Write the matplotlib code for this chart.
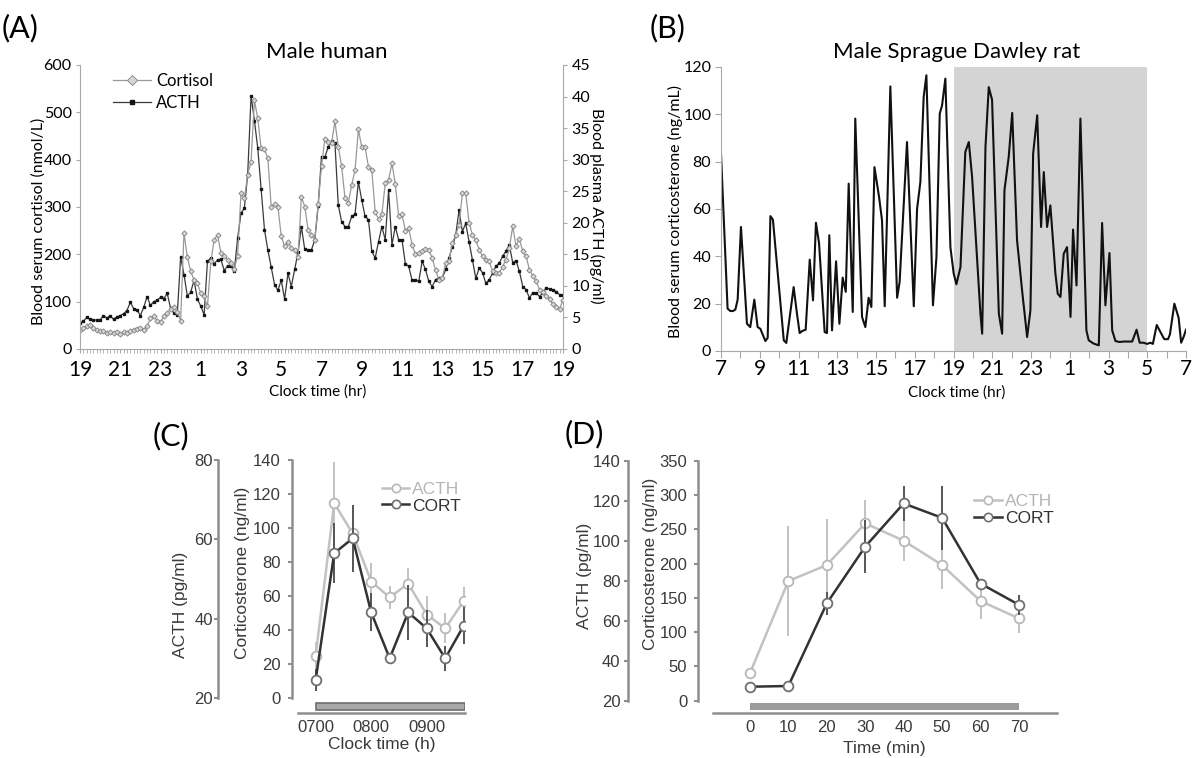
import numpy as np
import matplotlib.pyplot as plt
from matplotlib.patches import Rectangle
from matplotlib.lines import Line2D

plt.rcParams['font.family'] = ['Lato', 'DejaVu Sans']

# (A) male human, one sample every 10 min from 19:00 to 19:00
cortisol = [40, 44, 48, 51, 45, 41, 37, 37, 34, 35, 34, 35, 32, 35, 34, 37, 41, 42, 44, 41,
            48, 65, 69, 60, 58, 69, 76, 84, 88, 79, 60,
            246, 194, 164, 146, 139, 118, 111, 90,
            185, 231, 241, 203, 197, 189, 182, 170, 197, 330, 318, 368,
            396, 525, 487, 424, 422, 403, 301, 307, 301, 238, 217, 226, 214, 209, 195,
            321, 301, 252, 241, 231, 307, 387, 444, 437, 435, 481, 427, 386, 319,
            308, 347, 378, 464, 426, 426, 385, 378, 290, 274,
            285, 350, 357, 392, 349, 280, 285, 250, 255, 220,
            200, 203, 206, 211, 210, 192, 167, 146, 150, 181,
            185, 224, 241, 262, 329, 329, 267, 241, 230, 210, 196, 189,
            185, 164, 160, 160, 174, 189, 213, 259, 218, 233,
            206, 196, 167, 155, 143, 125, 120, 113, 105, 95, 89, 85, 104]
acth_human = [4.1, 4.4, 5.0, 4.7, 4.6, 4.6, 4.6, 5.3, 4.9, 5.3, 4.7, 5.1, 5.3, 5.6, 6.1, 7.4,
              6.4, 6.2, 5.3, 6.6, 8.3, 6.9, 7.5, 7.7, 8.2, 8.0, 8.8, 6.5, 5.7, 5.4, 14.6,
              11.8, 8.4, 9.0, 10.9, 7.9, 6.8, 5.4,
              13.9, 14.4, 13.5, 14.1, 14.2, 12.4, 13.2, 13.1, 12.4, 17.6, 21.5, 22.3, 27.7,
              40.1, 36.2, 31.8, 25.3, 18.9, 15.7, 13.0, 10.2, 9.3, 10.9, 7.9, 12.0, 9.9, 12.6, 15.3,
              19.4, 15.8, 15.7, 15.7, 17.3, 22.6, 30.5, 30.4, 32.0, 32.9, 32.7, 22.8, 20.2, 19.4,
              19.4, 21.0, 21.4, 26.5, 23.6, 21.0, 20.5, 15.5, 14.4, 17.0,
              19.4, 17.3, 25.2, 16.5, 19.4, 17.3, 17.3, 13.5, 13.1, 10.9,
              11.0, 10.7, 13.9, 12.6, 10.7, 9.9, 11.0, 11.2, 11.2, 12.6,
              14.4, 16.2, 18.0, 22.0, 18.6, 19.9, 17.0, 14.1, 11.2, 12.8, 12.1, 10.4,
              11.0, 12.0, 13.1, 13.6, 14.7, 15.5, 16.5, 13.7, 14.0, 12.3,
              9.9, 9.4, 8.1, 8.9, 8.9, 8.3, 8.9, 9.7, 9.5, 9.4, 9.1, 8.6, 8.6]

# (B) male Sprague Dawley rat, hours after 07:00
rat_hours = [0.00, 0.34, 0.48, 0.62, 0.74, 0.86, 1.03, 1.34, 1.51, 1.72, 1.89, 2.03, 2.29, 2.41,
             2.55, 2.68, 3.24, 3.37, 3.75, 3.92, 4.06, 4.20, 4.37, 4.58, 4.75, 4.90, 5.06, 5.35,
             5.47, 5.59, 5.73, 5.94, 6.11, 6.28, 6.44, 6.59, 6.80, 6.93, 7.28, 7.45, 7.62, 7.76,
             7.92, 8.16, 8.31, 8.45, 8.74, 9.09, 9.22, 9.60, 9.95, 10.12, 10.29, 10.46, 10.60,
             10.94, 11.12, 11.29, 11.41, 11.58, 11.84, 12.01, 12.15, 12.36, 12.61, 12.79, 12.96,
             13.39, 13.48, 13.65, 13.82, 13.99, 14.34, 14.51, 14.63, 14.85, 15.03, 15.28, 15.54,
             15.80, 15.97, 16.11, 16.32, 16.52, 16.66, 16.83, 17.00, 17.26, 17.38, 17.52, 17.69,
             17.86, 18.04, 18.17, 18.35, 18.55, 18.86, 18.98, 19.24, 19.50, 19.67, 19.84, 20.05,
             20.19, 20.36, 20.58, 20.79, 21.03, 21.22, 21.45, 21.61, 21.80, 22.00, 22.16, 22.29,
             22.49, 22.68, 22.88, 23.07, 23.17, 23.40, 23.62, 23.75, 23.88, 24.00]
rat_cort = [83.4, 17.9, 16.9, 16.9, 17.5, 21.7, 52.4, 11.5, 10.1, 21.7, 10.1, 9.4, 4.2, 5.6,
            57.0, 55.5, 4.5, 3.4, 27.0, 15.8, 7.6, 8.5, 9.0, 38.6, 21.4, 54.2, 45.6, 8.0,
            7.6, 48.9, 8.7, 37.9, 11.5, 31.0, 25.0, 70.7, 16.5, 98.2, 14.4, 10.1, 22.5, 18.6,
            77.7, 65.0, 55.2, 18.9, 111.8, 22.5, 29.2, 88.3, 18.9, 60.1, 71.4, 107.3, 116.5,
            19.3, 39.7, 100.3, 103.8, 115.1, 43.9, 32.7, 28.2, 35.5, 84.1, 88.3, 73.5,
            15.8, 7.3, 86.2, 111.5, 106.2, 15.8, 7.3, 67.9, 82.0, 100.6, 46.8, 25.6,
            5.9, 17.2, 83.4, 99.6, 52.4, 75.6, 52.4, 61.5, 32.7, 24.2, 22.8, 41.1,
            43.9, 14.4, 51.3, 27.7, 98.2, 8.7, 4.5, 3.1, 2.4, 54.1, 19.3, 41.4,
            8.7, 4.2, 3.8, 4.0, 4.0, 4.0, 9.0, 3.5, 3.5, 3.0, 3.5, 3.0,
            11.0, 8.0, 5.0, 5.0, 7.0, 20.0, 14.0, 3.5, 6.0, 9.0]
dark_start, dark_end = 12, 22   # lights off 19:00 - 05:00

# (C) minutes after 07:00
c_minutes = [0, 20, 40, 60, 80, 100, 120, 140, 160]
c_acth = [30.7, 69.1, 61.5, 49.4, 45.4, 48.9, 41.1, 37.6, 44.5]
c_acth_err = [3.4, 10.5, 3.0, 4.6, 3.0, 4.0, 4.6, 3.8, 3.4]
c_cort = [10.8, 85.2, 94.0, 50.5, 23.5, 50.5, 41.1, 23.5, 42.7]
c_cort_err = [6.3, 17.6, 19.6, 11.2, 3.0, 16.0, 10.8, 7.3, 10.8]

# (D) minutes
d_minutes = [0, 10, 20, 30, 40, 50, 60, 70]
d_acth = [33.7, 79.9, 87.9, 108.8, 100.1, 87.9, 69.9, 61.2]
d_acth_err = [2.0, 27.7, 23.0, 11.7, 10.4, 12.0, 8.8, 7.5]
d_cort = [20.4, 21.4, 142, 225, 288, 267, 171, 140]
d_cort_err = [3, 3, 17, 39, 25, 47, 6, 15]

W, H = 1197, 758
fig = plt.figure(figsize=(W / 100, H / 100), dpi=100)


def box(left, top, right, bottom):
    return [left / W, 1 - bottom / H, (right - left) / W, (bottom - top) / H]


def put(x, y, s, **kw):
    kw.setdefault('ha', 'center')
    kw.setdefault('va', 'center')
    fig.text(x / W, 1 - y / H, s, **kw)


spine_gray = '#a8a8a8'

# ---------------- (A)
axA = fig.add_axes(box(80, 65, 563, 349))
axA2 = axA.twinx()
hrs = np.arange(len(cortisol)) / 6
lc, = axA.plot(hrs, cortisol, color='#999999', lw=0.9, marker='D', ms=2.7,
               mfc='#d6d6d6', mec='#808080', mew=0.6)
la, = axA2.plot(hrs, acth_human, color='#3a3a3a', lw=0.9, marker='s', ms=2.0,
                mfc='#151515', mec='#151515')
axA.set_zorder(axA2.get_zorder() + 1)
axA.patch.set_visible(False)
axA.set_xlim(0, 24)
axA.set_ylim(0, 600)
axA2.set_ylim(0, 45)
axA.set_yticks(range(0, 601, 100))
axA2.set_yticks(range(0, 46, 5))
axA.set_xticks(np.arange(0, 25, 2))
axA.set_xticklabels([str((19 + h) % 24) for h in range(0, 25, 2)])
axA.set_xticks(hrs, minor=True)
for s in ('top', 'right'):
    axA.spines[s].set_visible(False)
for s in ('top', 'left', 'bottom'):
    axA2.spines[s].set_visible(False)
for a in (axA, axA2):
    for s in a.spines.values():
        s.set_color(spine_gray)
    a.tick_params(axis='y', length=3, color=spine_gray, labelsize=11.5, pad=3)
axA.tick_params(axis='x', which='both', length=3, color=spine_gray, labelsize=15, pad=5)
axA.legend([lc, la], ['Cortisol', 'ACTH'], loc='upper left', bbox_to_anchor=(0.068, 0.972),
           frameon=False, fontsize=12, handlelength=2.3, handletextpad=0.3,
           borderpad=0, borderaxespad=0, labelspacing=0.35, markerscale=1.7)

put(2, 28, '(A)', ha='left', fontsize=22)
put(327, 52, 'Male human', fontsize=16)
put(39, 221, 'Blood serum cortisol (nmol/L)', rotation=90, fontsize=11.5)
put(597, 206, 'Blood plasma ACTH (pg/ml)', rotation=270, fontsize=11.5)
put(318, 392, 'Clock time (hr)', fontsize=11)

# ---------------- (B)
axB = fig.add_axes(box(721, 67, 1186, 351))
axB.axvspan(dark_start, dark_end, color='#d4d4d4', lw=0, zorder=0)
axB.plot(rat_hours, rat_cort, color='#111111', lw=1.5)
axB.set_xlim(0, 24)
axB.set_ylim(0, 120)
axB.set_yticks(range(0, 121, 20))
axB.set_xticks(range(25))
axB.set_xticklabels([str((7 + h) % 24) if h % 2 == 0 else '' for h in range(25)])
for s in ('top', 'right'):
    axB.spines[s].set_visible(False)
for s in axB.spines.values():
    s.set_color(spine_gray)
axB.tick_params(axis='y', length=4, color=spine_gray, labelsize=11.5, pad=3)
axB.tick_params(axis='x', length=5, color=spine_gray, labelsize=15, pad=1)

put(650, 28, '(B)', ha='left', fontsize=22)
put(957, 52, 'Male Sprague Dawley rat', fontsize=16)
put(675, 211, 'Blood serum corticosterone (ng/mL)', rotation=90, fontsize=11.5)
put(957, 393, 'Clock time (hr)', fontsize=11)

# ---------------- (C) and (D)
arial = ['Liberation Sans', 'DejaVu Sans']
txt = '#3a3a3a'
cd_gray = '#8e8e8e'
light = '#c2c2c2'
dark = '#333333'


def hpa_panel(rect, x, acth, acth_err, cort, cort_err, xlim, cort_lim, acth_lim,
              cort_ticks, acth_ticks, cort_out, acth_out, acth_pad):
    ax = fig.add_axes(rect)
    ax2 = ax.twinx()
    ax2.errorbar(x, acth, yerr=acth_err, color=light, lw=1.8, marker='o', ms=7,
                 mfc='white', mec='#b8b8b8', mew=1.3, elinewidth=1.4, capsize=0)
    ax.errorbar(x, cort, yerr=cort_err, color=dark, lw=1.8, marker='o', ms=7,
                mfc='white', mec='#707070', mew=1.3, ecolor='#555555',
                elinewidth=1.4, capsize=0)
    ax.set_zorder(ax2.get_zorder() + 1)
    ax.patch.set_visible(False)
    ax.set_xlim(*xlim)
    ax.set_ylim(*cort_lim)
    ax2.set_ylim(*acth_lim)
    ax.set_yticks(cort_ticks)
    ax2.set_yticks(acth_ticks)
    for s in ('top', 'right'):
        ax.spines[s].set_visible(False)
    for s in ('top', 'right', 'bottom'):
        ax2.spines[s].set_visible(False)
    ax.spines['left'].set_position(('outward', cort_out))
    ax.spines['left'].set_bounds(cort_ticks[0], cort_ticks[-1])
    ax2.spines['left'].set_visible(True)
    ax2.spines['left'].set_position(('outward', acth_out))
    ax2.spines['left'].set_bounds(acth_ticks[0], acth_ticks[-1])
    ax2.yaxis.set_ticks_position('left')
    for a in (ax, ax2):
        for s in a.spines.values():
            s.set_color(cd_gray)
            s.set_linewidth(1.8)
    ax.tick_params(axis='y', length=3, width=1.5, color=cd_gray, labelsize=12,
                   labelcolor=txt, labelfontfamily=arial, pad=5)
    ax2.tick_params(axis='y', length=3, width=1.5, color=cd_gray, labelsize=12,
                    labelcolor=txt, labelfontfamily=arial, pad=acth_pad)
    ax.tick_params(axis='x', length=0, labelsize=12, labelcolor=txt,
                   labelfontfamily=arial, pad=5)
    return ax, ax2


def hpa_legend(ax, anchor):
    handles = [Line2D([], [], color=light, lw=1.8, marker='o', ms=6, mfc='white',
                      mec='#b8b8b8', mew=1.2),
               Line2D([], [], color=dark, lw=1.8, marker='o', ms=6, mfc='white',
                      mec='#707070', mew=1.2)]
    leg = ax.legend(handles, ['ACTH', 'CORT'], loc='upper right', bbox_to_anchor=anchor,
                    frameon=False, prop={'family': arial, 'size': 12.5}, handlelength=1.6,
                    handletextpad=0.15, borderpad=0, borderaxespad=0, labelspacing=0.1)
    leg.get_texts()[0].set_color('#b5b5b5')
    leg.get_texts()[1].set_color(dark)


axC, axC2 = hpa_panel(box(298, 460, 465, 713), c_minutes, c_acth, c_acth_err, c_cort,
                      c_cort_err, (-19.1, 161.4), (-8.6, 140), (16.3, 80),
                      list(range(0, 141, 20)), [20, 40, 60, 80], 4.5, 57.4, 1)
axC.set_xticks([0, 60, 120])
axC.set_xticklabels(['0700', '0800', '0900'])
axC.add_patch(Rectangle((c_minutes[0], -6.9), c_minutes[-1] + 1.5 - c_minutes[0], 4.0,
                        facecolor='#a8a8a8', edgecolor='#6e6e6e', lw=1.2, zorder=1))
hpa_legend(axC, (0.975, 0.915))

axD, axD2 = hpa_panel(box(713, 461, 1057, 713), d_minutes, d_acth, d_acth_err, d_cort,
                      d_cort_err, (-9.6, 79.9), (-18.0, 350), (13.84, 140),
                      list(range(0, 351, 50)), list(range(20, 141, 20)), 10.6, 61, 2.6)
axD.set_xticks(d_minutes)
axD.add_patch(Rectangle((d_minutes[0], -13.6), d_minutes[-1] - d_minutes[0], 9.8,
                        facecolor='#9b9b9b', edgecolor='none', zorder=1))
hpa_legend(axD, (0.99, 0.87))

put(153, 436, '(C)', ha='left', fontsize=22)
put(180, 605, 'ACTH (pg/ml)', rotation=90, fontsize=12.5, family=arial, color=txt)
put(242, 573, 'Corticosterone (ng/ml)', rotation=90, fontsize=12.5, family=arial, color=txt)
put(382, 744, 'Clock time (h)', fontsize=12.5, family=arial, color=txt)

put(565, 434, '(D)', ha='left', fontsize=22)
put(584, 576, 'ACTH (pg/ml)', rotation=90, fontsize=12.5, family=arial, color=txt)
put(651, 564, 'Corticosterone (ng/ml)', rotation=90, fontsize=12.5, family=arial, color=txt)
put(884, 748, 'Time (min)', fontsize=12.5, family=arial, color=txt)

fig.savefig('out.png', dpi=100)
